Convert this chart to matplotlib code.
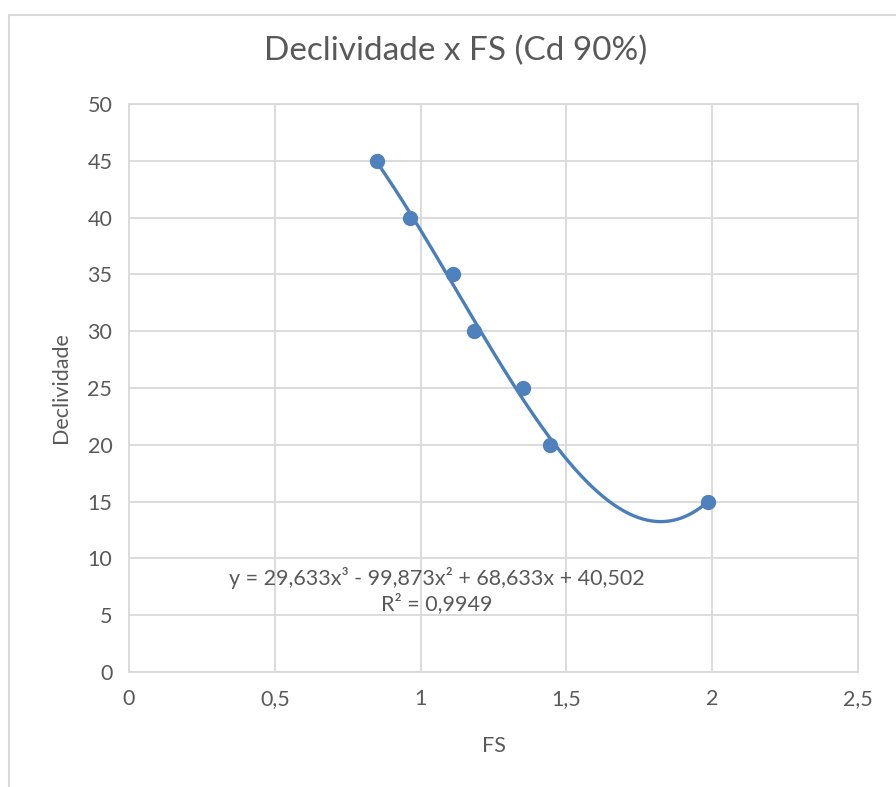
import numpy as np
import matplotlib
matplotlib.use("Agg")
import matplotlib.pyplot as plt
from matplotlib.patches import Rectangle

plt.rcParams['font.family'] = ['Lato', 'DejaVu Sans']

# Data
fs = [0.85, 0.964, 1.111, 1.183, 1.351, 1.444, 1.986]
declividade = [45, 40, 35, 30, 25, 20, 15]
# Cubic trendline coefficients (highest power first)
coef = [29.633, -99.873, 68.633, 40.502]
r2 = "0,9949"
x_ticks = [0, 0.5, 1, 1.5, 2, 2.5]
x_tick_labels = ["0", "0,5", "1", "1,5", "2", "2,5"]
y_ticks = [0, 5, 10, 15, 20, 25, 30, 35, 40, 45, 50]

W, H = 896, 787
fig = plt.figure(figsize=(W / 100, H / 100), dpi=100)
fig.patch.set_facecolor("white")

# outer chart frame
fig.patches.append(Rectangle((9 / W, -0.05), 1.2, 1 - 15 / H + 0.05,
                             transform=fig.transFigure, fill=False,
                             edgecolor="#d9d9d9", linewidth=1.5))

# caption line running off the top edge
fig.text(0.0, 1 + 4 / H, "Gráfico 3: Correlação entre a declividade e FS para a Cd de 90% da tração de cisalhamento",
         ha="left", va="baseline", fontsize=15, color="#222222")

ax = fig.add_axes([129 / W, 1 - 672 / H, (858 - 129) / W, (672 - 104) / H])
grid_c = "#d9d9d9"
ax.set_xlim(0, 2.5)
ax.set_ylim(0, 50)
ax.set_xticks(x_ticks)
ax.set_xticklabels(x_tick_labels)
ax.set_yticks(y_ticks)
ax.grid(True, color=grid_c, linewidth=1.3)
ax.set_axisbelow(True)
for s in ax.spines.values():
    s.set_color(grid_c)
    s.set_linewidth(1.3)
ax.tick_params(length=0, labelsize=15.5, colors="#595959", pad=12)

xs = np.linspace(min(fs), max(fs), 300)
ax.plot(xs, np.polyval(coef, xs), color="#4a7ebb", linewidth=2.4, zorder=2)
ax.plot(fs, declividade, "o", color="#4f81bd", markersize=10, zorder=3)

fig.text(456 / W, 1 - 51 / H, "Declividade x FS (Cd 90%)", ha="center", va="center",
         fontsize=24, color="#595959")
ax.set_xlabel("FS", fontsize=15.5, color="#595959", labelpad=20)
ax.set_ylabel("Declividade", fontsize=15.5, color="#595959", labelpad=12)

eq = "y = 29,633x³ - 99,873x² + 68,633x + 40,502\nR² = " + r2
ax.text(1.056, 7.2, eq, ha="center", va="center", fontsize=15.5,
        color="#595959", linespacing=1.25)

fig.savefig("out.png", dpi=100)
